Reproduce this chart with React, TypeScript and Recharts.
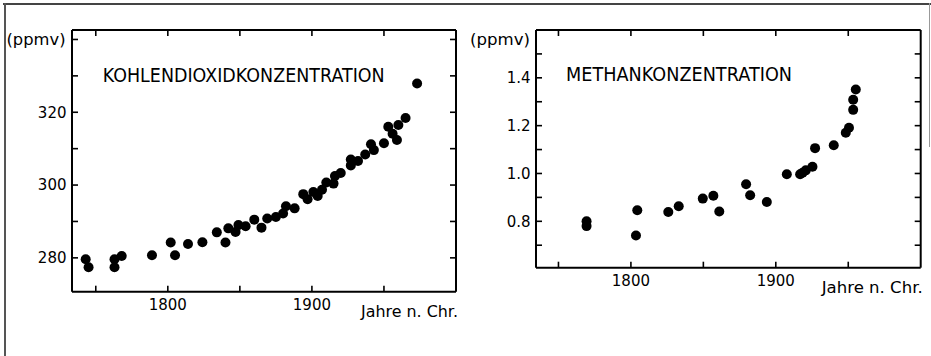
import React from 'react';
import { ScatterChart, Scatter, XAxis, YAxis } from 'recharts';

// ---- Data ----
const co2Years = [1743, 1745, 1763, 1763, 1768, 1789, 1802, 1805, 1814, 1824, 1834, 1840, 1842, 1847, 1849, 1854, 1860, 1865, 1869, 1875, 1880, 1882, 1888, 1894, 1897, 1901, 1904, 1907, 1910, 1915, 1916, 1920, 1927, 1927, 1932, 1937, 1941, 1943, 1950, 1953, 1956, 1959, 1960, 1965, 1973];
const co2Values = [279.6, 277.4, 279.6, 277.4, 280.5, 280.7, 284.2, 280.7, 283.8, 284.3, 287.0, 284.2, 288.1, 287.1, 289.0, 288.7, 290.5, 288.3, 290.8, 291.2, 292.2, 294.2, 293.6, 297.5, 296.1, 298.1, 297.0, 298.7, 300.7, 300.4, 302.5, 303.3, 305.4, 307.0, 306.6, 308.4, 311.2, 309.6, 311.5, 316.0, 314.1, 312.4, 316.5, 318.4, 327.9];

const ch4Years = [1769.4, 1769.4, 1803.5, 1804.4, 1825.8, 1833, 1849.6, 1856.9, 1861, 1879.5, 1882.3, 1893.8, 1907.6, 1916.8, 1918.5, 1920.7, 1925.3, 1927.1, 1940, 1948.3, 1950.5, 1953.4, 1953.4, 1955.2];
const ch4Values = [0.80, 0.78, 0.741, 0.846, 0.839, 0.863, 0.895, 0.907, 0.841, 0.955, 0.909, 0.881, 0.997, 0.997, 1.003, 1.013, 1.028, 1.106, 1.118, 1.170, 1.191, 1.266, 1.308, 1.351];

const yearTicks = [1750, 1800, 1850, 1900, 1950];
const yearLabels = [1800, 1900];
const co2Ticks = [280, 290, 300, 310, 320, 330, 340];
const co2Labels = [280, 300, 320];
const ch4Ticks = [0.7, 0.8, 0.9, 1.0, 1.1, 1.2, 1.3, 1.4, 1.5];
const ch4Labels = [0.8, 1.0, 1.2, 1.4];

const co2Title = 'KOHLENDIOXIDKONZENTRATION';
const ch4Title = 'METHANKONZENTRATION';
const unitLabel = '(ppmv)';
const xAxisTitle = 'Jahre n. Chr.';

const co2Data = co2Years.map((x, i) => ({ x, y: co2Values[i] }));
const ch4Data = ch4Years.map((x, i) => ({ x, y: ch4Values[i] }));

const FONT = '"DejaVu Sans", "Liberation Sans", sans-serif';

const Dot = (props: any) => <circle cx={props.cx} cy={props.cy} r={5} fill="#000" />;
const Empty = () => <g />;

const has = (list: number[], v: number) => list.some((l) => Math.abs(l - v) < 1e-6);

type PanelProps = {
  data: { x: number; y: number }[];
  width: number;
  height: number;
  margin: { top: number; right: number; bottom: number; left: number };
  xDomain: [number, number];
  yDomain: [number, number];
  yTicks: number[];
  yLabels: number[];
  yFmt: (v: number) => string;
  yAxisW: number;
  xAxisH: number;
};

function Panel(p: PanelProps) {
  const axisLine = { stroke: '#000', strokeWidth: 2 };
  const tickLine = { stroke: '#000', strokeWidth: 1.6 };
  const tickStyle = { fill: '#000', fontSize: 15, fontFamily: FONT };
  return (
    <ScatterChart width={p.width} height={p.height} margin={p.margin}>
      <XAxis
        xAxisId="b"
        type="number"
        dataKey="x"
        orientation="bottom"
        domain={p.xDomain}
        ticks={yearTicks}
        interval={0}
        allowDataOverflow
        height={p.xAxisH}
        tickSize={-6}
        tickMargin={13.6}
        axisLine={axisLine}
        tickLine={tickLine}
        tick={tickStyle}
        tickFormatter={(v: number) => (has(yearLabels, v) ? String(v) : '')}
      />
      <XAxis
        xAxisId="t"
        type="number"
        dataKey="x"
        orientation="top"
        domain={p.xDomain}
        ticks={yearTicks}
        interval={0}
        allowDataOverflow
        height={1}
        tickSize={-6}
        axisLine={axisLine}
        tickLine={tickLine}
        tick={tickStyle}
        tickFormatter={() => ''}
      />
      <YAxis
        yAxisId="l"
        type="number"
        dataKey="y"
        orientation="left"
        domain={p.yDomain}
        ticks={p.yTicks}
        interval={0}
        allowDataOverflow
        width={p.yAxisW}
        tickSize={-6}
        tickMargin={11.5}
        axisLine={axisLine}
        tickLine={tickLine}
        tick={tickStyle}
        tickFormatter={(v: number) => (has(p.yLabels, v) ? p.yFmt(v) : '')}
      />
      <YAxis
        yAxisId="r"
        type="number"
        dataKey="y"
        orientation="right"
        domain={p.yDomain}
        ticks={p.yTicks}
        interval={0}
        allowDataOverflow
        width={1}
        tickSize={-6}
        axisLine={axisLine}
        tickLine={tickLine}
        tick={tickStyle}
        tickFormatter={() => ''}
      />
      <Scatter xAxisId="b" yAxisId="l" data={p.data} shape={Dot} isAnimationActive={false} />
      <Scatter xAxisId="t" yAxisId="r" data={p.data} shape={Empty} isAnimationActive={false} legendType="none" />
    </ScatterChart>
  );
}

export default function App() {
  return (
    <div style={{ position: 'absolute', left: 0, top: 0, width: 931, height: 356, background: '#fff', overflow: 'hidden' }}>
      {/* page frame */}
      <div style={{ position: 'absolute', left: 3, top: 3, width: 928, height: 1.5, background: '#444' }} />
      <div style={{ position: 'absolute', left: 4, top: 3, width: 1.5, height: 353, background: '#555' }} />
      <div style={{ position: 'absolute', left: 929, top: 3, width: 1, height: 144, background: '#999' }} />

      <div style={{ position: 'absolute', left: 0, top: 0 }}>
        <Panel
          data={co2Data}
          width={470}
          height={356}
          margin={{ top: 29, right: 13, bottom: 0, left: 0 }}
          xDomain={[1733.5, 2000]}
          yDomain={[270.7, 342.6]}
          yTicks={co2Ticks}
          yLabels={co2Labels}
          yFmt={(v) => String(v)}
          yAxisW={72}
          xAxisH={64.3}
        />
      </div>
      <div style={{ position: 'absolute', left: 465, top: 0 }}>
        <Panel
          data={ch4Data}
          width={466}
          height={356}
          margin={{ top: 29, right: 9.3, bottom: 0, left: 0 }}
          xDomain={[1734.5, 2000]}
          yDomain={[0.606, 1.6]}
          yTicks={ch4Ticks}
          yLabels={ch4Labels}
          yFmt={(v) => v.toFixed(1)}
          yAxisW={71}
          xAxisH={88.3}
        />
      </div>

      <svg width={931} height={356} style={{ position: 'absolute', left: 0, top: 0, pointerEvents: 'none' }}>
        <g fill="#000" fontFamily={FONT}>
          <text x={6.5} y={44.5} fontSize={16} textLength={59} lengthAdjust="spacingAndGlyphs">{unitLabel}</text>
          <text x={470} y={44.5} fontSize={16} textLength={60} lengthAdjust="spacingAndGlyphs">{unitLabel}</text>
          <text x={102.7} y={81.7} fontSize={19} textLength={282} lengthAdjust="spacingAndGlyphs">{co2Title}</text>
          <text x={566} y={81} fontSize={19} textLength={226} lengthAdjust="spacingAndGlyphs">{ch4Title}</text>
          <text x={361} y={316.7} fontSize={15} textLength={97} lengthAdjust="spacingAndGlyphs">{xAxisTitle}</text>
          <text x={821.7} y={293.3} fontSize={15} textLength={101} lengthAdjust="spacingAndGlyphs">{xAxisTitle}</text>
        </g>
      </svg>
    </div>
  );
}
